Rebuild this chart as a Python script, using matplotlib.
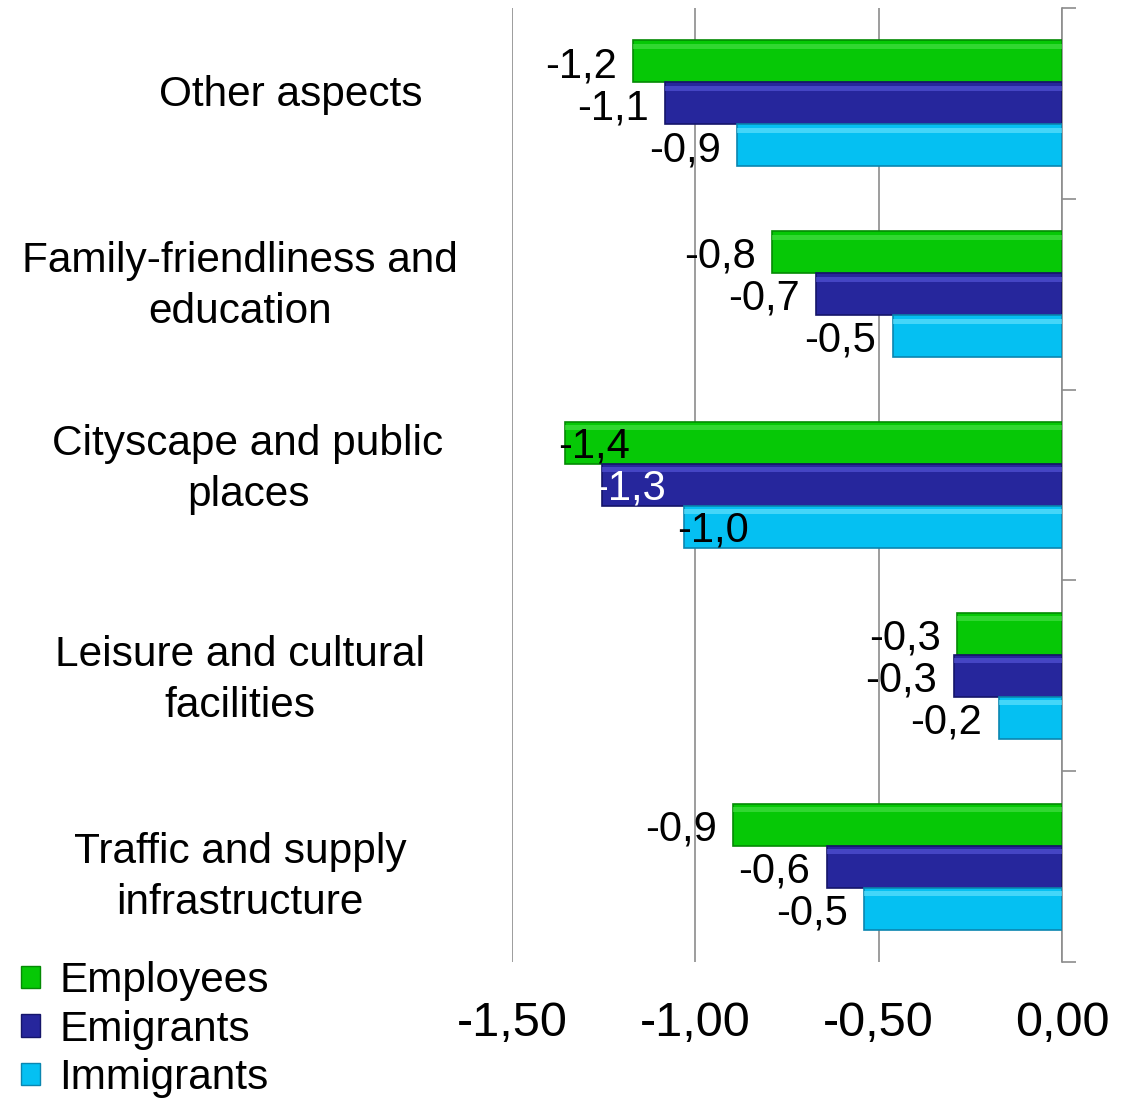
import matplotlib.pyplot as plt
import numpy as np
from matplotlib.patches import Patch
from matplotlib.transforms import blended_transform_factory

plt.rcParams['font.family'] = ['Liberation Sans', 'DejaVu Sans']

categories = ['Other aspects', 'Family-friendliness and\neducation',
              'Cityscape and public\nplaces', 'Leisure and cultural\nfacilities',
              'Traffic and supply\ninfrastructure']
series = ['Employees', 'Emigrants', 'Immigrants']
employees = [-1.17, -0.79, -1.355, -0.286, -0.897]
emigrants = [-1.083, -0.671, -1.255, -0.295, -0.641]
immigrants = [-0.886, -0.461, -1.031, -0.172, -0.54]
xticks = [-1.5, -1.0, -0.5, 0.0]

colors = ['#06c806', '#26269c', '#05c0f2']
edges = ['#048a04', '#15156a', '#0a86b0']
lights = ['#4fe24f', '#5a5ae0', '#6fe6ff']

fig = plt.figure(figsize=(11.26, 10.98), dpi=100)
ax = fig.add_axes([512 / 1126, 1 - 962 / 1098, 550 / 1126, 954 / 1098])

y = np.arange(len(categories))
h = 0.22
vals = [employees, emigrants, immigrants]
for k, v in enumerate(vals):
    yy = y + (k - 1) * h
    ax.barh(yy, v, height=h, color=colors[k], edgecolor=edges[k], linewidth=1.2, zorder=3)
    # bevel highlight
    ax.barh(yy - h * 0.36, v, height=h * 0.12, color=lights[k], linewidth=0, zorder=4, alpha=0.6)
    for i, val in enumerate(v):
        txt = '{:.1f}'.format(val).replace('.', ',')
        if i == 2:
            ax.text(val - 0.02, yy[i] + 0.02, txt, ha='left', va='center', fontsize=30,
                    color='white' if k == 1 else 'black', zorder=5)
        else:
            ax.text(val - 0.045, yy[i] + 0.025, txt, ha='right', va='center', fontsize=30,
                    color='black', zorder=5)

ax.set_xlim(-1.5, 0)
ax.set_ylim(len(categories) - 0.5, -0.5)
ax.set_xticks(xticks)
ax.set_xticklabels(['{:.2f}'.format(t).replace('.', ',') for t in xticks], fontsize=35)
ax.tick_params(axis='x', length=0, pad=28)
ax.grid(axis='x', color='#8c8c8c', linewidth=1.2, zorder=0)
ax.yaxis.tick_right()
ax.set_yticks(np.arange(len(categories) + 1) - 0.5)
ax.set_yticklabels([])
ax.tick_params(axis='y', direction='out', length=10, color='#8c8c8c', width=1.2)
for s in ['top', 'left', 'bottom']:
    ax.spines[s].set_visible(False)
ax.spines['right'].set_color('#8c8c8c')
ax.spines['right'].set_linewidth(1.2)

trans = blended_transform_factory(fig.transFigure, ax.transData)
label_x = [291, 240, 248, 240, 240]
label_dy = [-0.045, -0.04, -0.08, 0.025, 0.055]
for i, c in enumerate(categories):
    ax.text(label_x[i] / 1126, i + label_dy[i], c, transform=trans,
            ha='center', va='center', fontsize=30.5, linespacing=1.36)

handles = [Patch(facecolor=colors[k], edgecolor=edges[k]) for k in range(3)]
fig.legend(handles, series, loc='upper left', bbox_to_anchor=(0.0, 1 - 940 / 1098), frameon=False,
           fontsize=30.5, handlelength=0.45, handleheight=0.45, handletextpad=0.45, labelspacing=0.2,
           borderaxespad=0.3, borderpad=0.2)

fig.savefig('out.png', dpi=100)
